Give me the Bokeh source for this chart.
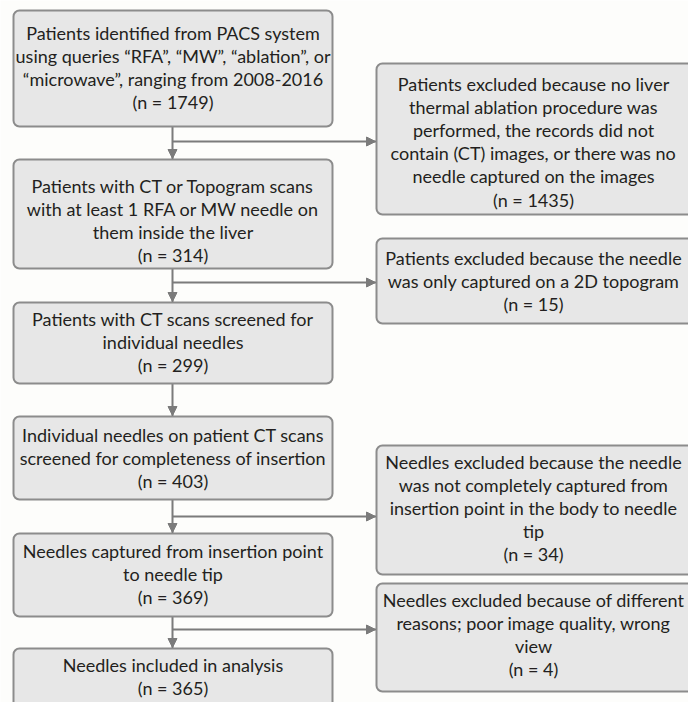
from bokeh.plotting import figure
from bokeh.models import Range1d, Arrow, NormalHead, ColumnDataSource
from bokeh.embed import file_html
from bokeh.resources import INLINE
from bokeh.core.properties import value

# ---- data ----
main_labels = [
    "Patients identified from PACS system\nusing queries \u201cRFA\u201d, \u201cMW\u201d, \u201cablation\u201d, or\n\u201cmicrowave\u201d, ranging from 2008-2016",
    "Patients with CT or Topogram scans\nwith at least 1 RFA or MW needle on\nthem inside the liver",
    "Patients with CT scans screened for\nindividual needles",
    "Individual needles on patient CT scans\nscreened for completeness of insertion",
    "Needles captured from insertion point\nto needle tip",
    "Needles included in analysis",
]
main_counts = [1749, 314, 299, 403, 369, 365]

excl_labels = [
    "Patients excluded because no liver\nthermal ablation procedure was\nperformed, the records did not\ncontain (CT) images, or there was no\nneedle captured on the images",
    "Patients excluded because the needle\nwas only captured on a 2D topogram",
    "Needles excluded because the needle\nwas not completely captured from\ninsertion point in the body to needle\ntip",
    "Needles excluded because of different\nreasons; poor image quality, wrong\nview",
]
excl_counts = [1435, 15, 34, 4]

# ---- layout (pixel coordinates of the page) ----
main_left, main_right, main_cx = 13, 332, 172
main_top = [10, 159, 302, 416, 533, 648]
main_bottom = [126, 268, 383, 499, 616, 712]
main_first_line = [32, 185, 318, 434, 550, 664]

excl_left, excl_right, excl_cx = 376, 700, 533
excl_top = [63, 238, 445, 583]
excl_bottom = [214, 323, 574, 691]
excl_first_line = [83, 257, 461, 599]
branch_y = [141, 282, 516, 629]
LINE_STEP = 23.2

FILL = "#e7e7e7"
EDGE = "#8c8c8c"
LINE = "#7b7b7b"
TXT = "#231f20"
FONT = value("Lato")

p = figure(width=688, height=702, output_backend="svg", toolbar_location=None,
           x_range=Range1d(0, 688), y_range=Range1d(702, 0),
           min_border=0, background_fill_color="#fdfdfb", border_fill_color="#fdfdfb",
           outline_line_color=None)
p.axis.visible = False
p.xgrid.visible = False
p.ygrid.visible = False

# connectors
for i in range(len(main_top) - 1):
    p.segment(x0=[main_cx], y0=[main_bottom[i]], x1=[main_cx], y1=[main_top[i + 1]],
              line_color=LINE, line_width=2)
    p.add_layout(Arrow(end=NormalHead(size=9, fill_color=LINE, line_color=LINE, line_width=1),
                       x_start=main_cx, y_start=main_top[i + 1] - 10,
                       x_end=main_cx, y_end=main_top[i + 1] - 1,
                       line_color=LINE, line_width=2))
for by in branch_y:
    p.segment(x0=[main_cx], y0=[by], x1=[excl_left], y1=[by], line_color=LINE, line_width=2)
    p.add_layout(Arrow(end=NormalHead(size=9, fill_color=LINE, line_color=LINE, line_width=1),
                       x_start=excl_left - 10, y_start=by, x_end=excl_left - 1, y_end=by,
                       line_color=LINE, line_width=2))

# boxes
p.quad(left=[main_left] * len(main_top), right=[main_right] * len(main_top),
       top=main_top, bottom=main_bottom, fill_color=FILL, line_color=EDGE,
       line_width=2, border_radius=6)
p.quad(left=[excl_left] * len(excl_top), right=[excl_right] * len(excl_top),
       top=excl_top, bottom=excl_bottom, fill_color=FILL, line_color=EDGE,
       line_width=2, border_radius=6)

# texts, one glyph per line
def build_lines(labels, counts, cx, first):
    xs, ys, ts = [], [], []
    for lab, n, y0 in zip(labels, counts, first):
        lines = lab.split("\n") + [f"(n = {n})"]
        for k, ln in enumerate(lines):
            xs.append(cx)
            ys.append(y0 + k * LINE_STEP)
            ts.append(ln)
    return ColumnDataSource(dict(x=xs, y=ys, text=ts))

main_src = build_lines(main_labels, main_counts, main_cx + 0.5, main_first_line)
excl_src = build_lines(excl_labels, excl_counts, excl_cx, excl_first_line)

p.text(x="x", y="y", text="text", source=main_src, text_align="center",
       text_baseline="middle", text_font=FONT, text_font_size="18px",
       text_color=TXT)
p.text(x="x", y="y", text="text", source=excl_src, text_align="center",
       text_baseline="middle", text_font=FONT, text_font_size="18px",
       text_color=TXT)

open("out.html", "w").write(file_html(p, INLINE))
